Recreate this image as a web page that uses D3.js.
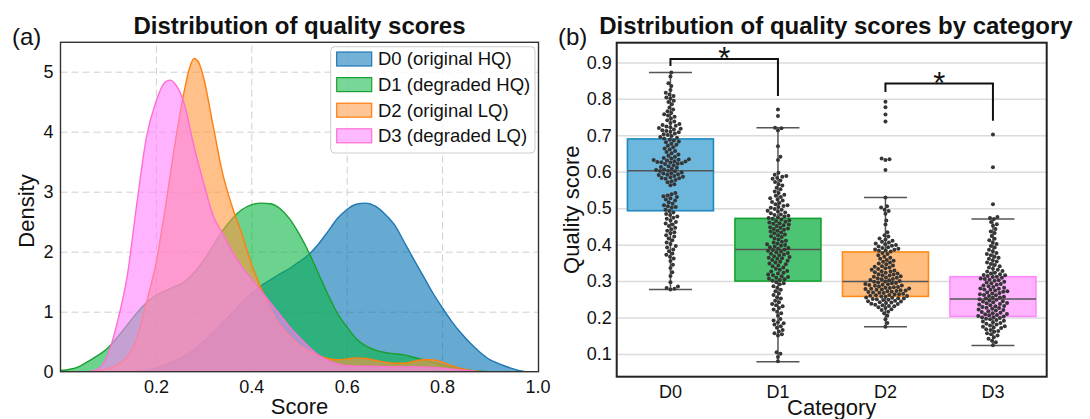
<!DOCTYPE html>
<html><head><meta charset="utf-8">
<script src="https://cdn.jsdelivr.net/npm/d3@7"></script>
<style>
body{margin:0;background:#fff}
svg{display:block}
text{font-family:"Liberation Sans",Arial,Helvetica,sans-serif;fill:#111}
</style>
</head><body>
<svg id="c" width="1090" height="419"></svg>
<script>
// ---------------- DATA ----------------
const categories = ["D0","D1","D2","D3"];
const legendLabels = ["D0 (original HQ)","D1 (degraded HQ)","D2 (original LQ)","D3 (degraded LQ)"];

// Panel (a): KDE curves [score, density]
const kdeD0 = [[0.16,0],[0.18,0.02],[0.20,0.06],[0.22,0.11],[0.24,0.18],[0.26,0.26],[0.28,0.37],[0.30,0.5],[0.32,0.65],[0.34,0.81],[0.36,0.98],[0.38,1.15],[0.40,1.3],[0.42,1.43],[0.44,1.53],[0.46,1.63],[0.48,1.72],[0.50,1.83],[0.52,1.95],[0.54,2.12],[0.56,2.33],[0.58,2.55],[0.60,2.7],[0.62,2.79],[0.64,2.81],[0.66,2.76],[0.68,2.63],[0.70,2.45],[0.72,2.17],[0.74,1.88],[0.76,1.6],[0.78,1.32],[0.80,1.07],[0.82,0.84],[0.84,0.64],[0.86,0.47],[0.88,0.32],[0.90,0.2],[0.92,0.13],[0.94,0.07],[0.96,0.02],[0.975,0]];
const kdeD1 = [[0.0,0.02],[0.02,0.04],[0.04,0.09],[0.06,0.18],[0.08,0.28],[0.10,0.4],[0.12,0.58],[0.14,0.78],[0.16,0.98],[0.18,1.15],[0.20,1.27],[0.22,1.35],[0.24,1.42],[0.26,1.5],[0.28,1.65],[0.30,1.85],[0.32,2.1],[0.34,2.35],[0.36,2.55],[0.38,2.7],[0.40,2.78],[0.42,2.81],[0.44,2.8],[0.46,2.72],[0.48,2.55],[0.50,2.3],[0.52,2.0],[0.54,1.65],[0.56,1.3],[0.58,0.98],[0.60,0.75],[0.62,0.55],[0.64,0.43],[0.66,0.36],[0.68,0.32],[0.70,0.3],[0.72,0.28],[0.74,0.24],[0.76,0.2],[0.78,0.16],[0.80,0.12],[0.82,0.08],[0.84,0.05],[0.86,0.02],[0.88,0.01],[0.90,0]];
const kdeD2 = [[0.06,0],[0.08,0.02],[0.10,0.05],[0.12,0.12],[0.14,0.25],[0.16,0.55],[0.18,1.15],[0.20,1.8],[0.22,2.75],[0.24,3.8],[0.26,4.7],[0.27,5.05],[0.28,5.22],[0.29,5.15],[0.30,4.9],[0.32,4.1],[0.34,3.3],[0.36,2.75],[0.38,2.3],[0.40,1.8],[0.42,1.4],[0.44,1.05],[0.46,0.78],[0.48,0.6],[0.50,0.45],[0.52,0.35],[0.54,0.27],[0.56,0.22],[0.58,0.2],[0.60,0.21],[0.62,0.23],[0.64,0.22],[0.66,0.19],[0.68,0.16],[0.70,0.14],[0.72,0.14],[0.74,0.17],[0.76,0.2],[0.78,0.2],[0.80,0.16],[0.82,0.1],[0.84,0.05],[0.86,0.02],[0.88,0]];
const kdeD3 = [[0.06,0],[0.08,0.05],[0.10,0.3],[0.12,0.85],[0.14,1.6],[0.16,2.8],[0.18,3.9],[0.20,4.5],[0.22,4.83],[0.23,4.86],[0.24,4.8],[0.26,4.45],[0.28,3.75],[0.30,3.15],[0.32,2.6],[0.34,2.3],[0.36,2.0],[0.38,1.75],[0.40,1.55],[0.42,1.35],[0.44,1.15],[0.46,0.95],[0.48,0.75],[0.50,0.58],[0.52,0.42],[0.54,0.28],[0.56,0.19],[0.58,0.13],[0.60,0.1],[0.65,0.09],[0.70,0.08],[0.75,0.08],[0.80,0.06],[0.85,0.02],[0.88,0]];
const xTicksA = [0.2,0.4,0.6,0.8,1.0];
const yTicksA = [0,1,2,3,4,5];

// Panel (b): individual quality scores per category
const scoresD0 = [0.872,0.861,0.843,0.835,0.824,0.817,0.812,0.808,0.804,0.801,0.795,0.791,0.785,
0.776,0.771,0.766,0.761,0.758,0.754,0.751,0.746,0.741,0.738,0.734,0.731,
0.728,0.726,0.724,0.722,0.720,0.718,0.716,0.714,0.712,0.710,
0.708,0.705,0.703,0.701,0.698,0.695,0.693,0.691,0.688,0.686,0.683,0.681,
0.677,0.674,0.671,0.667,0.664,0.661,0.657,0.654,0.651,0.647,0.644,0.641,
0.638,0.636,0.634,0.633,0.632,0.631,0.629,0.628,0.627,0.626,0.625,0.623,0.622,0.621,
0.618,0.615,0.613,0.611,0.608,0.606,0.605,0.603,0.602,0.601,
0.598,0.596,0.595,0.593,0.592,0.591,0.588,0.586,0.585,0.583,0.582,0.581,
0.577,0.574,0.571,0.566,0.563,0.542,0.538,0.535,0.533,0.531,0.527,0.524,0.521,
0.516,0.512,0.508,0.505,0.503,0.501,0.496,0.492,0.488,0.484,0.481,0.477,0.474,0.471,
0.466,0.462,0.458,0.455,0.451,0.446,0.442,0.438,0.434,0.431,0.426,0.422,0.417,0.412,
0.406,0.402,0.396,0.392,0.387,0.382,0.376,0.372,0.367,0.362,
0.355,0.345,0.336,0.324,0.314,0.297,0.285,0.281,0.279,0.277];
const scoresD1 = [0.771,0.753,0.721,0.719,0.713,0.670,0.641,0.632,
0.597,0.592,0.588,0.586,0.583,0.581,0.576,0.572,0.566,0.562,0.556,0.552,0.546,0.542,
0.537,0.534,0.531,0.527,0.524,0.521,0.517,0.514,0.511,0.508,0.506,0.503,0.501,
0.498,0.496,0.493,0.491,0.488,0.486,0.483,0.481,0.479,0.477,0.475,0.473,0.471,
0.469,0.467,0.465,0.463,0.461,0.459,0.457,0.455,0.453,0.451,
0.448,0.446,0.444,0.443,0.441,0.438,0.436,0.433,0.431,0.428,0.426,0.423,0.421,
0.417,0.414,0.411,0.408,0.406,0.403,0.401,0.399,0.397,0.395,0.393,0.391,
0.389,0.387,0.385,0.383,0.381,0.379,0.377,0.375,0.373,0.371,
0.368,0.366,0.364,0.363,0.361,0.358,0.356,0.353,0.351,0.348,0.346,0.343,0.341,
0.337,0.334,0.331,0.328,0.326,0.323,0.321,0.318,0.316,0.313,0.311,
0.309,0.307,0.305,0.303,0.301,0.297,0.294,0.291,0.286,0.282,0.276,0.272,
0.266,0.262,0.256,0.252,0.246,0.242,0.237,0.234,0.231,0.226,0.222,0.216,0.212,0.205,
0.196,0.192,0.187,0.184,0.181,0.176,0.172,0.166,0.162,0.157,0.154,0.151,
0.105,0.101,0.092,0.080];
const scoresD2 = [0.792,0.777,0.757,0.738,0.636,0.634,0.632,0.605,
0.529,0.505,0.502,0.496,0.492,0.485,0.466,0.455,0.434,0.426,0.422,0.417,0.414,0.411,
0.408,0.406,0.403,0.401,0.399,0.397,0.395,0.393,0.391,0.389,0.387,0.386,0.384,0.383,0.381,
0.377,0.374,0.371,0.367,0.364,0.361,0.358,0.356,0.353,0.351,0.348,0.346,0.343,0.341,
0.339,0.337,0.335,0.333,0.331,0.329,0.327,0.326,0.324,0.323,0.321,
0.319,0.318,0.316,0.315,0.313,0.312,0.310,0.309,0.308,0.306,0.305,0.303,0.302,0.300,
0.299,0.298,0.296,0.295,0.294,0.292,0.291,0.290,
0.289,0.288,0.287,0.285,0.284,0.283,0.282,0.281,0.280,
0.279,0.278,0.277,0.276,0.275,0.274,0.273,0.272,0.271,0.270,
0.269,0.268,0.267,0.265,0.264,0.263,0.262,0.261,0.260,
0.259,0.258,0.257,0.255,0.254,0.253,0.252,0.251,0.250,
0.249,0.248,0.246,0.245,0.244,0.242,0.241,0.240,
0.238,0.237,0.235,0.234,0.232,0.231,0.228,0.226,0.223,0.221,
0.216,0.212,0.205,0.195,0.185,0.175];
const scoresD3 = [0.702,0.612,0.511,
0.476,0.473,0.470,0.462,0.456,0.452,0.443,0.436,0.432,0.424,0.416,0.412,0.406,0.402,
0.396,0.392,0.386,0.382,0.377,0.374,0.371,0.367,0.364,0.361,0.357,0.354,0.351,
0.347,0.344,0.341,0.337,0.334,0.331,0.328,0.326,0.323,0.321,
0.319,0.317,0.316,0.314,0.312,0.311,0.309,0.307,0.306,0.304,0.302,0.301,
0.298,0.296,0.294,0.292,0.290,0.288,0.286,0.284,0.282,0.280,
0.279,0.277,0.276,0.274,0.272,0.271,0.269,0.267,0.266,0.264,0.262,0.261,
0.259,0.257,0.255,0.254,0.252,0.250,0.249,0.247,0.245,0.244,0.242,0.240,
0.239,0.237,0.236,0.234,0.232,0.231,0.229,0.227,0.226,0.224,0.222,0.221,
0.219,0.217,0.215,0.213,0.212,0.210,
0.209,0.207,0.206,0.204,0.203,0.201,0.200,
0.199,0.197,0.195,0.193,0.191,0.189,0.187,0.185,0.183,0.181,
0.178,0.176,0.175,0.173,0.171,0.168,0.166,0.163,0.161,
0.157,0.154,0.151,0.146,0.142,0.136,0.132,0.124];

// Box statistics: [whiskerLow, q1, median, q3, whiskerHigh]
const boxD0 = [0.277,0.493,0.603,0.690,0.872];
const boxD1 = [0.079,0.300,0.387,0.472,0.721];
const boxD2 = [0.175,0.258,0.299,0.380,0.529];
const boxD3 = [0.123,0.203,0.251,0.312,0.470];
const yTicksB = [0.1,0.2,0.3,0.4,0.5,0.6,0.7,0.8,0.9];

// significance brackets: [fromIndex, toIndex, barValue, leftEndValue, rightEndValue]
const sigBrackets = [[0,1,0.909,0.890,0.8075],[2,3,0.842,0.819,0.740]];

// ---------------- STYLE ----------------
const lineColors = ["#1f77b4","#18a02e","#ff7f0e","#ff6fd2"];
const fillColors = ["#0071b4","#0ab644","#ff963c","#ff80ff"];
const boxFill = ["#6db6dc","#4cc474","#ffbe80","#ffb3ff"];
const boxStroke = ["#1f8ac0","#16a332","#ff8c1a","#ff88ff"];

const svg = d3.select("#c");

// ================= PANEL A =================
const A = {l:60.5, r:538.5, t:42.3, b:371.7};
const xA = d3.scaleLinear().domain([0,1]).range([60.5,537.5]);
const yA = d3.scaleLinear().domain([0,5.49]).range([A.b,A.t]);
const gA = svg.append("g");

gA.append("g").attr("transform",`translate(0,${A.b})`)
  .call(d3.axisBottom(xA).tickValues([0.2,0.4,0.6,0.8]).tickSize(-(A.b-A.t)).tickFormat(""))
  .call(g=>g.select(".domain").remove())
  .call(g=>g.selectAll("line").attr("stroke","#cfcfcf").attr("stroke-width",1).attr("stroke-dasharray","7,4"));
gA.append("g").attr("transform",`translate(${A.l},0)`)
  .call(d3.axisLeft(yA).tickValues([1,2,3,4,5]).tickSize(-(A.r-A.l)).tickFormat(""))
  .call(g=>g.select(".domain").remove())
  .call(g=>g.selectAll("line").attr("stroke","#cfcfcf").attr("stroke-width",1).attr("stroke-dasharray","7,4"));

const area = d3.area().x(d=>xA(d[0])).y0(yA(0)).y1(d=>yA(d[1])).curve(d3.curveMonotoneX);
const line = d3.line().x(d=>xA(d[0])).y(d=>yA(d[1])).curve(d3.curveMonotoneX);
const kdes = [kdeD0,kdeD1,kdeD2,kdeD3];
svg.append("clipPath").attr("id","clipA").append("rect")
  .attr("x",A.l).attr("y",A.t).attr("width",A.r-A.l).attr("height",A.b-A.t);
kdes.forEach((k,i)=>{
  const g = gA.append("g").attr("clip-path","url(#clipA)");
  g.append("path").datum(k).attr("d",area).attr("fill",fillColors[i]).attr("fill-opacity",0.6);
  g.append("path").datum(k).attr("d",line).attr("fill","none").attr("stroke",lineColors[i]).attr("stroke-width",1.4);
});

gA.append("rect").attr("x",A.l).attr("y",A.t).attr("width",A.r-A.l).attr("height",A.b-A.t)
  .attr("fill","none").attr("stroke","#333").attr("stroke-width",1.4);

gA.append("g").attr("transform",`translate(0,${A.b})`)
  .call(d3.axisBottom(xA).tickValues(xTicksA).tickSize(0).tickPadding(9).tickFormat(d3.format(".1f")))
  .call(g=>g.select(".domain").remove())
  .call(g=>g.selectAll("text").attr("font-size",18).attr("fill","#111").style("font-family",'"Liberation Sans",Arial,sans-serif'));
gA.append("g").attr("transform",`translate(${A.l},0)`)
  .call(d3.axisLeft(yA).tickValues(yTicksA).tickSize(0).tickPadding(7).tickFormat(d3.format("d")))
  .call(g=>g.select(".domain").remove())
  .call(g=>g.selectAll("text").attr("font-size",18).attr("fill","#111").style("font-family",'"Liberation Sans",Arial,sans-serif'));

gA.append("text").attr("x",(A.l+A.r)/2).attr("y",33.5).attr("text-anchor","middle")
  .attr("font-size",24).attr("font-weight","bold").text("Distribution of quality scores");
gA.append("text").attr("x",(A.l+A.r)/2).attr("y",414).attr("text-anchor","middle")
  .attr("font-size",22).text("Score");
gA.append("text").attr("transform",`translate(34,${(A.t+A.b)/2+4}) rotate(-90)`).attr("text-anchor","middle")
  .attr("font-size",22).text("Density");
svg.append("text").attr("x",12).attr("y",45).attr("font-size",24).text("(a)");

const lg = gA.append("g");
lg.append("rect").attr("x",330.7).attr("y",46.7).attr("width",204.3).attr("height",106.3).attr("rx",4)
  .attr("fill","#fff").attr("fill-opacity",0.8).attr("stroke","#cccccc").attr("stroke-width",1);
legendLabels.forEach((t,i)=>{
  const cy = 59 + i*25.6;
  lg.append("rect").attr("x",336.7).attr("y",cy-7).attr("width",35).attr("height",14)
    .attr("fill",fillColors[i]).attr("fill-opacity",0.55).attr("stroke",lineColors[i]).attr("stroke-width",1.2);
  lg.append("text").attr("x",378).attr("y",cy+6.3).attr("font-size",18.5).text(t);
});

// ================= PANEL B =================
const B = {l:616.7, r:1046.7, t:42.7, b:376.7};
const xB = d3.scaleBand().domain(categories).range([B.l,B.r]).padding(0);
const yB = d3.scaleLinear().domain([0.0377,0.954]).range([B.b,B.t]);
const gB = svg.append("g");

gB.append("g").attr("transform",`translate(${B.l},0)`)
  .call(d3.axisLeft(yB).tickValues(yTicksB).tickSize(-(B.r-B.l)).tickFormat(""))
  .call(g=>g.select(".domain").remove())
  .call(g=>g.selectAll("line").attr("stroke","#dcdcdc").attr("stroke-width",1.5));

const boxes = [boxD0,boxD1,boxD2,boxD3];
const scores = [scoresD0,scoresD1,scoresD2,scoresD3];
const bw = xB.bandwidth()*0.8;
boxes.forEach((s,i)=>{
  const cx = xB(categories[i]) + xB.bandwidth()/2;
  const g = gB.append("g");
  g.append("rect").attr("x",cx-bw/2).attr("y",yB(s[3])).attr("width",bw).attr("height",yB(s[1])-yB(s[3]))
    .attr("fill",boxFill[i]).attr("stroke",boxStroke[i]).attr("stroke-width",1.6);
  g.append("line").attr("x1",cx-bw/2).attr("x2",cx+bw/2).attr("y1",yB(s[2])).attr("y2",yB(s[2]))
    .attr("stroke","#555").attr("stroke-width",1.5);
  g.append("line").attr("x1",cx).attr("x2",cx).attr("y1",yB(s[3])).attr("y2",yB(s[4])).attr("stroke","#555").attr("stroke-width",1.5);
  g.append("line").attr("x1",cx).attr("x2",cx).attr("y1",yB(s[1])).attr("y2",yB(s[0])).attr("stroke","#555").attr("stroke-width",1.5);
  [s[0],s[4]].forEach(v=>g.append("line").attr("x1",cx-bw/4).attr("x2",cx+bw/4).attr("y1",yB(v)).attr("y2",yB(v))
    .attr("stroke","#555").attr("stroke-width",1.5));
});

const R = 2.0, D = 4.1;
function swarm(values){
  const pts = values.map(v=>({v, y:yB(v), x:0})).sort((a,b)=>a.v-b.v);
  const placed = [];
  for(const p of pts){
    const nb = placed.filter(q=>Math.abs(q.y-p.y)<D);
    const cands=[0];
    nb.forEach(q=>{const dy=p.y-q.y; const dx=Math.sqrt(D*D-dy*dy); cands.push(q.x+dx,q.x-dx);});
    cands.sort((a,b)=>Math.abs(a)-Math.abs(b));
    for(const c of cands){
      if(nb.every(q=>(q.x-c)*(q.x-c)+(q.y-p.y)*(q.y-p.y) >= D*D-1e-6)){p.x=c;break;}
    }
    placed.push(p);
  }
  return placed;
}
scores.forEach((vals,i)=>{
  const cx = xB(categories[i]) + xB.bandwidth()/2;
  gB.append("g").selectAll("circle").data(swarm(vals)).join("circle")
    .attr("cx",d=>cx+d.x).attr("cy",d=>d.y).attr("r",R).attr("fill","#363636");
});

sigBrackets.forEach(s=>{
  const x1 = xB(categories[s[0]])+xB.bandwidth()/2, x2 = xB(categories[s[1]])+xB.bandwidth()/2;
  gB.append("path").attr("d",`M${x1},${yB(s[3])}V${yB(s[2])}H${x2}V${yB(s[4])}`)
    .attr("fill","none").attr("stroke","#111").attr("stroke-width",2);
  gB.append("text").attr("x",(x1+x2)/2).attr("y",yB(s[2])+10).attr("text-anchor","middle")
    .attr("font-size",31).text("*");
});

gB.append("rect").attr("x",B.l).attr("y",B.t).attr("width",B.r-B.l).attr("height",B.b-B.t)
  .attr("fill","none").attr("stroke","#222").attr("stroke-width",2);

gB.append("g").attr("transform",`translate(0,${B.b})`)
  .call(d3.axisBottom(xB).tickSize(0).tickPadding(9))
  .call(g=>g.select(".domain").remove())
  .call(g=>g.selectAll("text").attr("font-size",18).attr("fill","#111").style("font-family",'"Liberation Sans",Arial,sans-serif'));
gB.append("g").attr("transform",`translate(${B.l},0)`)
  .call(d3.axisLeft(yB).tickValues(yTicksB).tickSize(0).tickPadding(5).tickFormat(d3.format(".1f")))
  .call(g=>g.select(".domain").remove())
  .call(g=>g.selectAll("text").attr("font-size",18).attr("fill","#111").style("font-family",'"Liberation Sans",Arial,sans-serif'));

gB.append("text").attr("x",836).attr("y",33.5).attr("text-anchor","middle")
  .attr("font-size",24).attr("font-weight","bold").text("Distribution of quality scores by category");
gB.append("text").attr("x",(B.l+B.r)/2).attr("y",415).attr("text-anchor","middle")
  .attr("font-size",22).text("Category");
gB.append("text").attr("transform",`translate(579,${(B.t+B.b)/2}) rotate(-90)`).attr("text-anchor","middle")
  .attr("font-size",22).text("Quality score");
svg.append("text").attr("x",558).attr("y",45).attr("font-size",24).text("(b)");
</script>
</body></html>
